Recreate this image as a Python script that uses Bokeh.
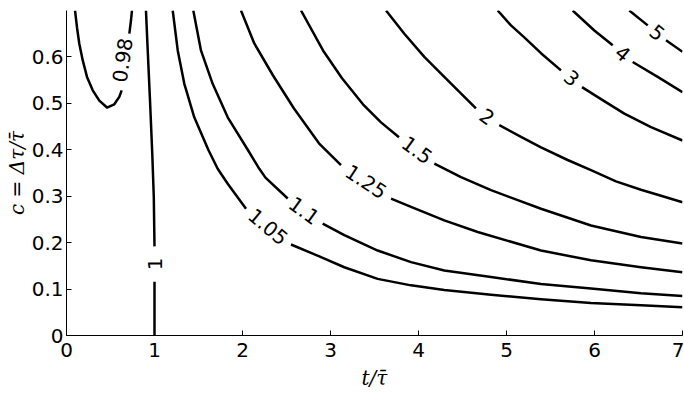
import math
from bokeh.plotting import figure
from bokeh.models import FixedTicker, Range1d
from bokeh.core.properties import value
from bokeh.embed import file_html
from bokeh.resources import INLINE

NAN = float("nan")

# contour levels and their polylines (t, c); NaN marks the gap left for the inline label
levels = ["0.98", "1", "1.05", "1.1", "1.25", "1.5", "2", "3", "4", "5"]

t_098 = [0.097, 0.119, 0.145, 0.184, 0.233, 0.298, 0.373, 0.460, 0.543, 0.600, 0.627, NAN, 0.714, 0.733, 0.744]
c_098 = [0.700, 0.664, 0.629, 0.593, 0.557, 0.528, 0.506, 0.491, 0.498, 0.514, 0.528, NAN, 0.650, 0.679, 0.700]

t_1 = [0.903, 0.923, 0.949, 0.975, 0.992, 1.000, NAN, 1.000, 1.000]
c_1 = [0.700, 0.614, 0.506, 0.390, 0.298, 0.192, NAN, 0.116, 0.000]

t_105 = [1.207, 1.264, 1.339, 1.452, 1.614, 1.718, 1.832, 2.040, NAN,
         2.551, 2.892, 3.157, 3.536, 3.915, 4.293, 4.824, 5.392, 5.960, 6.528, 7.000]
c_105 = [0.700, 0.614, 0.542, 0.470, 0.399, 0.359, 0.327, 0.273, NAN,
         0.196, 0.169, 0.147, 0.122, 0.108, 0.098, 0.088, 0.078, 0.070, 0.065, 0.061]

t_11 = [1.441, 1.528, 1.661, 1.832, 2.063, 2.191, 2.261, 2.514, NAN,
        2.911, 3.157, 3.536, 3.915, 4.293, 4.824, 5.392, 5.960, 6.528, 7.000]
c_11 = [0.700, 0.614, 0.542, 0.470, 0.399, 0.359, 0.340, 0.295, NAN,
        0.241, 0.216, 0.183, 0.158, 0.140, 0.126, 0.111, 0.101, 0.091, 0.085]

t_125 = [1.983, 2.134, 2.347, 2.585, 2.869, 3.119, NAN,
         3.688, 3.915, 4.293, 4.673, 5.392, 5.960, 6.528, 7.000]
c_125 = [0.700, 0.629, 0.560, 0.489, 0.414, 0.367, NAN,
         0.295, 0.277, 0.248, 0.223, 0.183, 0.162, 0.147, 0.136]

t_15 = [2.665, 2.915, 3.131, 3.369, 3.574, 3.778, NAN,
        4.180, 4.483, 4.824, 5.392, 5.960, 6.528, 7.000]
c_15 = [0.700, 0.614, 0.554, 0.498, 0.459, 0.427, NAN,
        0.370, 0.341, 0.313, 0.273, 0.237, 0.212, 0.198]

t_2 = [3.631, 3.839, 4.066, 4.293, 4.653, NAN,
       4.918, 5.165, 5.392, 5.695, 5.960, 6.244, 6.528, 6.756, 7.000]
c_2 = [0.700, 0.650, 0.600, 0.557, 0.489, NAN,
       0.453, 0.428, 0.405, 0.378, 0.356, 0.332, 0.314, 0.301, 0.287]

t_3 = [4.900, 5.051, 5.202, 5.392, 5.619, NAN, 5.858, 6.074, 6.339, 6.642, 7.000]
c_3 = [0.700, 0.668, 0.642, 0.608, 0.571, NAN, 0.535, 0.509, 0.478, 0.449, 0.420]

t_4 = [5.752, 5.998, 6.207, NAN, 6.434, 6.718, 7.000]
c_4 = [0.700, 0.657, 0.625, NAN, 0.589, 0.557, 0.524]

t_5 = [6.395, 6.605, NAN, 6.813, 7.000]
c_5 = [0.700, 0.668, NAN, 0.636, 0.611]

curves_t = [t_098, t_1, t_105, t_11, t_125, t_15, t_2, t_3, t_4, t_5]
curves_c = [c_098, c_1, c_105, c_11, c_125, c_15, c_2, c_3, c_4, c_5]

# inline label positions
label_t = [0.639, 1.000, 2.290, 2.699, 3.403, 3.983, 4.778, 5.739, 6.320, 6.710]
label_c = [0.593, 0.154, 0.234, 0.269, 0.331, 0.399, 0.471, 0.554, 0.607, 0.652]
label_angle = [82, 90, -40, -36, -33, -36, -35, -40, -40, -39]

x_ticks = [0, 1, 2, 3, 4, 5, 6, 7]
y_ticks = [0, 0.1, 0.2, 0.3, 0.4, 0.5, 0.6]
y_tick_labels = ["0", "0.1", "0.2", "0.3", "0.4", "0.5", "0.6"]

p = figure(width=684, height=395, output_backend="svg", toolbar_location=None,
           x_range=Range1d(0, 7), y_range=Range1d(0, 0.7),
           min_border_left=66, min_border_right=2, min_border_top=10, min_border_bottom=60)
p.outline_line_color = None
p.xgrid.visible = False
p.ygrid.visible = False
p.background_fill_color = "white"
p.border_fill_color = "white"

for ts, cs in zip(curves_t, curves_c):
    p.line(ts, cs, line_color="black", line_width=2.5, line_join="round", line_cap="butt")

p.text(x=label_t, y=label_c, text=levels, angle=[math.radians(a) for a in label_angle],
       text_font=value("DejaVu Sans"), text_font_size="20px", text_color="black",
       text_align="center", text_baseline="middle")

for ax in (p.xaxis[0], p.yaxis[0]):
    ax.axis_line_color = "black"
    ax.axis_line_width = 1
    ax.major_tick_in = 5
    ax.major_tick_out = 0
    ax.minor_tick_line_color = None
    ax.major_tick_line_color = "black"
    ax.major_label_text_font = "DejaVu Sans"
    ax.major_label_text_font_size = "20px"
    ax.major_label_text_color = "black"
    ax.axis_label_text_font = "DejaVu Serif"
    ax.axis_label_text_font_style = "italic"
    ax.axis_label_text_font_size = "20px"
    ax.axis_label_text_color = "black"

p.xaxis.ticker = FixedTicker(ticks=x_ticks)
p.yaxis.ticker = FixedTicker(ticks=y_ticks)
p.yaxis.major_label_overrides = {v: s for v, s in zip(y_ticks, y_tick_labels)}
p.xaxis.major_label_standoff = 7
p.yaxis.major_label_standoff = 3
p.xaxis.axis_label = "t/τ̄"
p.yaxis.axis_label = "c = Δτ/τ̄"
p.xaxis.axis_label_standoff = 6
p.yaxis.axis_label_standoff = 0

open("out.html", "w").write(file_html(p, INLINE))
